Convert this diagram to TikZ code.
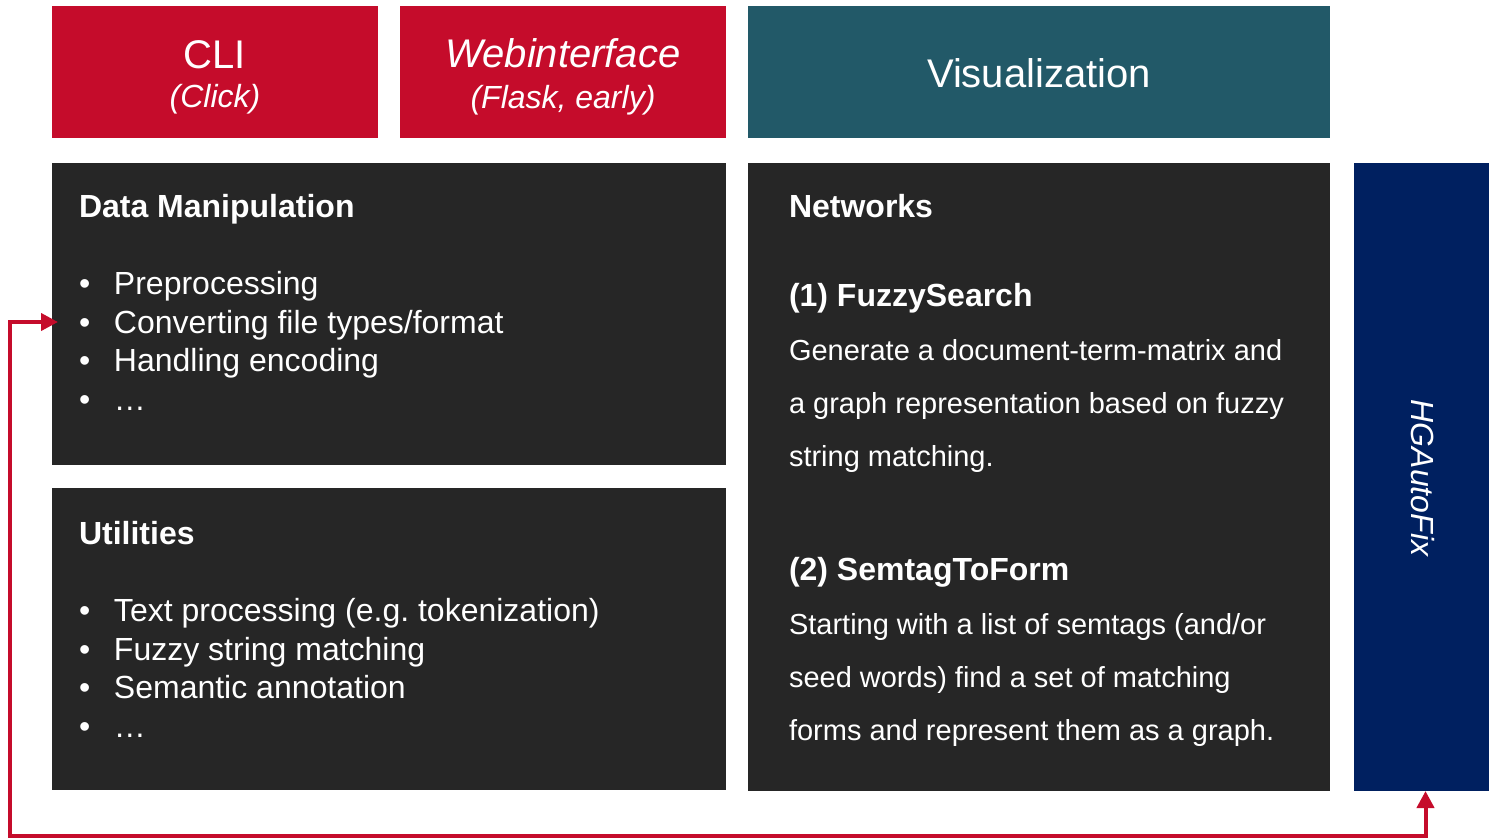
\documentclass[tikz,border=0pt]{standalone}
\usepackage{fontspec}
\setmainfont{Liberation Sans}
\usetikzlibrary{arrows.meta}
\definecolor{tured}{RGB}{197,12,43}
\definecolor{tealbox}{RGB}{34,89,104}
\definecolor{darkbox}{RGB}{38,38,38}
\definecolor{navybox}{RGB}{0,32,96}
\newcommand{\bul}{\makebox[35pt][l]{•}}
\frenchspacing
\tikzset{
  box/.style={anchor=north west, inner sep=0pt, outer sep=0pt, draw=none},
  txt/.style={anchor=base west, inner sep=0pt, outer sep=0pt, text=white},
  ctxt/.style={anchor=base, inner sep=0pt, outer sep=0pt, text=white},
  big/.style={font=\fontsize{40}{40}\selectfont},
  bigit/.style={font=\fontsize{40}{40}\selectfont\itshape},
  subit/.style={font=\fontsize{32}{32}\selectfont\itshape},
  hd/.style={font=\fontsize{32}{32}\selectfont\bfseries},
  bl/.style={font=\fontsize{32}{32}\selectfont},
  bd/.style={font=\fontsize{29}{29}\selectfont},
  arr/.style={draw=tured, line width=4pt, {Triangle[length=17pt,width=17pt]}-{Triangle[length=17pt,width=17pt]}},
}
\begin{document}
\begin{tikzpicture}[x=1pt,y=-1pt]
\useasboundingbox (0,0) rectangle (1489,838);
% boxes
\node[box, fill=tured, minimum width=326pt, minimum height=132pt] (cli) at (52,6) {};
\node[box, fill=tured, minimum width=326pt, minimum height=132pt] (web) at (400,6) {};
\node[box, fill=tealbox, minimum width=582pt, minimum height=132pt] (vis) at (748,6) {};
\node[box, fill=darkbox, minimum width=674pt, minimum height=302pt] (dm) at (52,163) {};
\node[box, fill=darkbox, minimum width=674pt, minimum height=302pt] (ut) at (52,488) {};
\node[box, fill=darkbox, minimum width=582pt, minimum height=628pt] (nw) at (748,163) {};
\node[box, fill=navybox, minimum width=135pt, minimum height=628pt] (hg) at (1354,163) {};
% header texts
\node[ctxt, big] (clit) at (215,68) {CLI};
\node[ctxt, subit] (clis) at (215,107) {(Click)};
\node[ctxt, bigit] (webt) at (563,67) {Webinterface};
\node[ctxt, subit] (webs) at (563,108) {(Flask, early)};
\node[ctxt, big] (vist) at (1039,87) {Visualization};
% data manipulation
\node[txt, hd] (dmt) at (79,217) {Data Manipulation};
\foreach \t [count=\i] in {Preprocessing, Converting file types/format, Handling encoding, …}
  \node[txt, bl] (dm\i) at (79,{294.5+38.5*(\i-1)}) {\bul\t};
% utilities
\node[txt, hd] (utt) at (79,544) {Utilities};
\foreach \t [count=\i] in {Text processing (e.g. tokenization), Fuzzy string matching, Semantic annotation, …}
  \node[txt, bl] (ut\i) at (79,{621.5+38.5*(\i-1)}) {\bul\t};
% networks
\node[txt, hd] (nwt) at (789,217) {Networks};
\node[txt, hd] (fs) at (789,306) {(1) FuzzySearch};
\foreach \t [count=\i] in {Generate a document-term-matrix and, a graph representation based on fuzzy, string matching.}
  \node[txt, bd] (fs\i) at (789,{360+53*(\i-1)}) {\t};
\node[txt, hd] (st) at (789,580) {(2) SemtagToForm};
\foreach \t [count=\i] in {Starting with a list of semtags (and/or, seed words) find a set of matching, forms and represent them as a graph.}
  \node[txt, bd] (st\i) at (789,{634+53*(\i-1)}) {\t};
% HGAutoFix
\node[inner sep=0pt, text=white, rotate=-90, font=\fontsize{32}{32}\selectfont\itshape] (hgt) at (1423,478) {HGAutoFix};
% connector
\coordinate (dmin) at (58,322);
\coordinate (low) at (10,836);
\draw[arr] ([xshift=4pt]hg.south) |- (low) |- (dmin);
\end{tikzpicture}
\end{document}
